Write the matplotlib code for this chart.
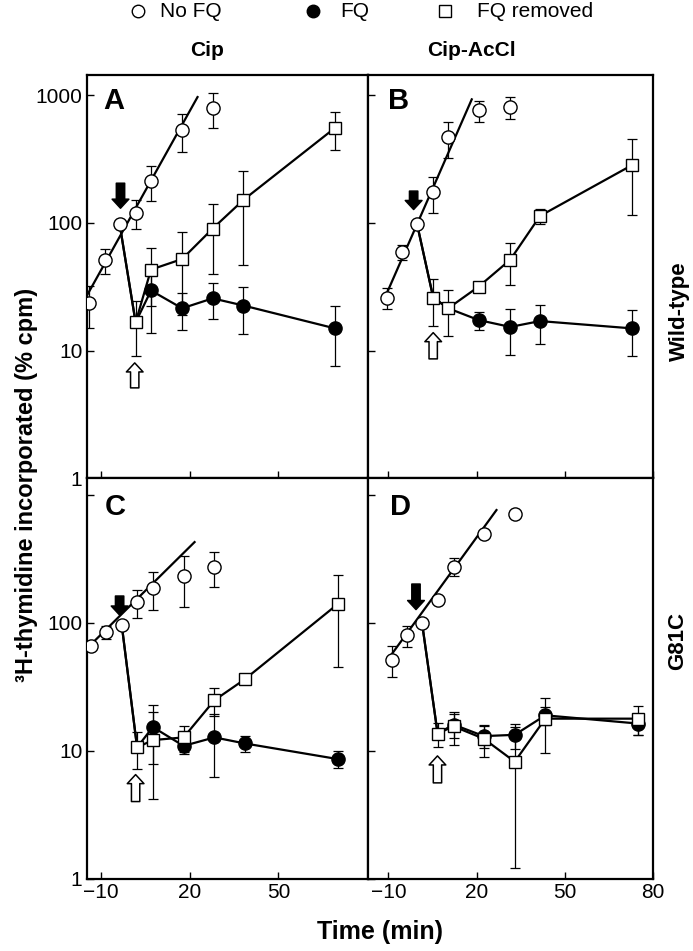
import matplotlib
matplotlib.use("Agg")
import matplotlib.pyplot as plt
from matplotlib.lines import Line2D

plt.rcParams['font.family'] = ['Liberation Sans', 'DejaVu Sans']

# ---- panel A : Cip, wild-type
a_nofq_x = [-13.9, -8.7, -3.6, 1.8, 7.0, 17.5, 27.8]
a_nofq_y = [23.5, 51, 98, 120, 213, 535, 790]
a_nofq_e = [8.4, 11, 0, 31, 66, 177, 240]
a_fit_x = [-14.5, 22.7]
a_fit_y = [27.3, 964]
a_x = [-3.6, 1.8, 7.0, 17.5, 27.8, 38.2, 69.1]
a_fq_y = [98, 16.6, 29.5, 21.4, 25.6, 22.5, 14.9]
a_fq_e = [0, 0, 15.7, 7, 8, 9, 7.4]
a_rem_y = [98, 16.6, 43, 52, 90, 151, 553]
a_rem_e = [0, 7.6, 20.6, 33, 50, 104, 183]

# ---- panel B : Cip-AcCl, wild-type
b_nofq_x = [-10.6, -5.5, -0.3, 5.2, 10.3, 20.7, 31.4]
b_nofq_y = [26, 59, 98, 175, 467, 757, 805]
b_nofq_e = [5, 8, 0, 55, 146, 144, 153]
b_fit_x = [-10.8, 18.3]
b_fit_y = [27.3, 925]
b_x = [-0.3, 5.2, 10.3, 20.7, 31.4, 41.5, 72.8]
b_fq_y = [98, 26, 21.4, 17.3, 15.3, 17, 14.9]
b_fq_e = [0, 0, 0, 2.9, 6, 5.8, 5.9]
b_rem_y = [98, 26, 21.4, 31.7, 51.4, 113, 283]
b_rem_e = [0, 10.5, 8.5, 0, 18.6, 15, 167]

# ---- panel C : Cip, G81C
c_nofq_x = [-13.4, -8.1, -2.9, 2.3, 7.6, 18.0, 28.1]
c_nofq_y = [65.4, 85, 97, 146, 187, 233, 272]
c_nofq_e = [0, 10, 0, 36, 62, 100, 83]
c_fit_x = [-14.5, 21.7]
c_fit_y = [63.5, 428]
c_x = [-2.9, 2.3, 7.6, 18.0, 28.4, 38.6, 70.0]
c_fq_y = [97, 10.6, 15.3, 10.9, 12.7, 11.4, 8.6]
c_fq_e = [0, 0, 7.4, 1.5, 6.5, 1.6, 1.3]
c_rem_y = [97, 10.6, 12.1, 12.7, 24.8, 36.1, 140]
c_rem_e = [0, 3.4, 7.9, 3, 6, 0, 95]

# ---- panel D : Cip-AcCl, G81C
d_nofq_x = [-8.9, -3.7, 1.4, 6.7, 12.1, 22.4, 32.9]
d_nofq_y = [51.4, 80, 100, 151, 275, 492, 708]
d_nofq_e = [14, 15, 0, 0, 44, 0, 0]
d_fit_x = [-9.1, 26.7]
d_fit_y = [56, 762]
d_x = [1.4, 6.7, 12.1, 22.4, 32.9, 43.3, 74.8]
d_fq_y = [100, 13.6, 16, 13, 13.3, 18.9, 16.3]
d_fq_e = [0, 0, 3.5, 2.5, 3, 3, 3]
d_rem_y = [100, 13.6, 15.5, 12.4, 8.2, 17.8, 17.8]
d_rem_e = [0, 2.9, 4.5, 3.4, 7, 8.2, 4.6]

# arrows: (x, tail y, tip y) for drug added (filled) and drug removed (open)
a_arrows = [(-3.3, 204, 130), (1.5, 5.1, 8.0)]
b_arrows = [(-1.45, 177, 127), (5.2, 8.6, 13.8)]
c_arrows = [(-3.6, 162, 115), (1.8, 4.0, 6.5)]
d_arrows = [(-0.65, 201, 127), (6.65, 5.6, 9.1)]

LW = 1.6
MS = 9.5


def draw_panel(ax, nofq_x, nofq_y, nofq_e, fit_x, fit_y, x, fq_y, fq_e,
               rem_y, rem_e, fq_start, arrows, letter):
    ''' one panel: open circles with fitted line, FQ and FQ removed curves '''
    eb = dict(fmt='none', ecolor='black', elinewidth=0.9, capsize=3.6,
              capthick=0.9)
    ax.errorbar(x, fq_y, yerr=fq_e, zorder=2, **eb)
    ax.errorbar(x, rem_y, yerr=rem_e, zorder=2, **eb)
    ax.errorbar(nofq_x, nofq_y, yerr=nofq_e, zorder=2, **eb)
    ax.plot(fit_x, fit_y, color='black', lw=LW, zorder=3)
    ax.plot(x, fq_y, color='black', lw=LW, marker='o', ms=MS,
            mfc='black', mec='black', markevery=slice(fq_start, None),
            zorder=4)
    ax.plot(x, rem_y, color='black', lw=LW, marker='s', ms=MS - 0.6,
            mfc='white', mec='black', mew=1.0, markevery=slice(1, None),
            zorder=5)
    ax.plot(nofq_x, nofq_y, ls='none', marker='o', ms=MS, mfc='white',
            mec='black', mew=1.0, zorder=6)
    for (ax_x, y0, y1), fc in zip(arrows, ['black', 'white']):
        ax.annotate('', xy=(ax_x, y1), xytext=(ax_x, y0),
                    arrowprops=dict(arrowstyle='simple,head_length=0.65,'
                                    'head_width=1.2,tail_width=0.6',
                                    fc=fc, ec='black', lw=1.1,
                                    shrinkA=0, shrinkB=0), zorder=7)
    ax.text(letter[1], letter[2], letter[0], transform=ax.transAxes,
            fontsize=21, fontweight='bold', va='baseline', ha='left')
    ax.set_yscale('log')
    ax.set_yticks([1, 10, 100, 1000])
    ax.minorticks_off()
    ax.tick_params(direction='in', length=5, width=1.0, labelsize=15,
                   top=False, right=False)
    for s in ax.spines.values():
        s.set_linewidth(1.6)


fig = plt.figure(figsize=(6.93, 9.51), dpi=100)
L, M, R = 0.1260, 0.5317, 0.9427
B0, MID, T = 0.0762, 0.4971, 0.9211
axA = fig.add_axes([L, MID, M - L, T - MID])
axB = fig.add_axes([M, MID, R - M, T - MID])
axC = fig.add_axes([L, B0, M - L, MID - B0])
axD = fig.add_axes([M, B0, R - M, MID - B0])

draw_panel(axA, a_nofq_x, a_nofq_y, a_nofq_e, a_fit_x, a_fit_y, a_x,
           a_fq_y, a_fq_e, a_rem_y, a_rem_e, 2, a_arrows, ('A', 0.056, 0.917))
draw_panel(axB, b_nofq_x, b_nofq_y, b_nofq_e, b_fit_x, b_fit_y, b_x,
           b_fq_y, b_fq_e, b_rem_y, b_rem_e, 3, b_arrows, ('B', 0.067, 0.917))
draw_panel(axC, c_nofq_x, c_nofq_y, c_nofq_e, c_fit_x, c_fit_y, c_x,
           c_fq_y, c_fq_e, c_rem_y, c_rem_e, 2, c_arrows, ('C', 0.063, 0.908))
draw_panel(axD, d_nofq_x, d_nofq_y, d_nofq_e, d_fit_x, d_fit_y, d_x,
           d_fq_y, d_fq_e, d_rem_y, d_rem_e, 2, d_arrows, ('D', 0.074, 0.908))

for ax in (axA, axC):
    ax.set_xlim(-14.5, 80.4)
    ax.set_xticks([-10, 20, 50])
for ax in (axB, axD):
    ax.set_xlim(-16.8, 79.4)
    ax.set_xticks([-10, 20, 50, 80])
    ax.set_yticklabels([])
axA.set_ylim(1, 1434)
axB.set_ylim(1, 1434)
axC.set_ylim(1, 1351)
axD.set_ylim(1, 1351)
axA.set_xticklabels([])
axB.set_xticklabels([])
axA.set_yticklabels(['1', '10', '100', '1000'])
axC.set_yticklabels(['1', '10', '100', ''])

# legend row across the top
leg = [('o', 'white', 0.199, 'No FQ', 0.231),
       ('o', 'black', 0.452, 'FQ', 0.491),
       ('s', 'white', 0.642, 'FQ removed', 0.688)]
for mk, fc, mx, lab, tx in leg:
    fig.add_artist(Line2D([mx], [0.988], marker=mk, ms=9, mfc=fc,
                          mec='black', mew=1.0, ls='none',
                          transform=fig.transFigure))
    fig.text(tx, 0.988, lab, fontsize=15, va='center', ha='left')

fig.text(0.299, 0.947, 'Cip', fontsize=15, fontweight='bold',
         ha='center', va='center')
fig.text(0.681, 0.947, 'Cip-AcCl', fontsize=15, fontweight='bold',
         ha='center', va='center')
fig.text(0.980, 0.673, 'Wild-type', fontsize=16, fontweight='bold',
         rotation=90, ha='center', va='center')
fig.text(0.978, 0.326, 'G81C', fontsize=16, fontweight='bold',
         rotation=90, ha='center', va='center')
fig.text(0.038, 0.49, '³H-thymidine incorporated (% cpm)', fontsize=17,
         fontweight='bold', rotation=90, ha='center', va='center')
fig.text(0.548, 0.020, 'Time (min)', fontsize=18, fontweight='bold',
         ha='center', va='center')

fig.savefig('out.png', dpi=100)
